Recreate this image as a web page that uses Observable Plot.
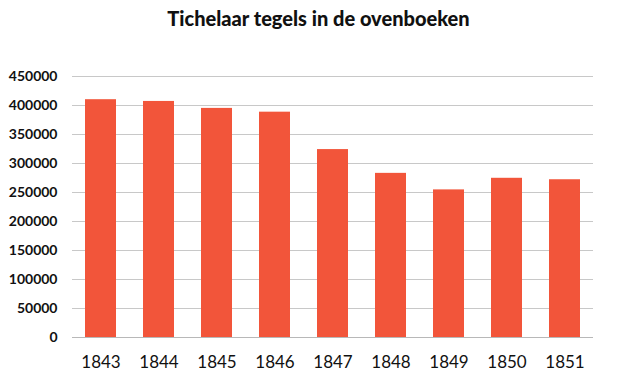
<!DOCTYPE html>
<html><head><meta charset="utf-8">
<script src="https://cdn.jsdelivr.net/npm/d3@7"></script>
<script src="https://cdn.jsdelivr.net/npm/@observablehq/plot@0.6"></script>
<style>
body{margin:0;background:#fff;width:637px;height:378px;overflow:hidden}
#title{height:40px;font-family:Lato,sans-serif;font-weight:900;font-size:20px;text-align:center;line-height:36px;color:#111}
</style></head>
<body>
<div id="title">Tichelaar tegels in de ovenboeken</div>
<div id="chart"></div>
<script>
const years = ["1843","1844","1845","1846","1847","1848","1849","1850","1851"];
const values = [410000,407000,395000,388500,324000,283000,254500,274500,272000];
const yTicks = [0,50000,100000,150000,200000,250000,300000,350000,400000,450000];

const data = years.map((y,i)=>({year:y,value:values[i]}));

const chart = Plot.plot({
  width:637, height:338,
  marginTop:36, marginBottom:41, marginLeft:72, marginRight:44,
  style:{fontFamily:"Lato, sans-serif", background:"#fff"},
  x:{domain:years, paddingInner:0.46, paddingOuter:0.2, label:null},
  y:{domain:[0,450000], ticks:yTicks, label:null},
  marks:[
    Plot.gridY(yTicks,{stroke:"#c8c8c8", strokeOpacity:1, strokeWidth:1}),
    Plot.ruleX([0],{frameAnchor:"left", stroke:"#c8c8c8"}),
    Plot.barY(data,{x:"year", y:"value", fill:"#f2553a"}),
    Plot.ruleY([0],{stroke:"#b8b8b8"}),
    Plot.axisY(yTicks,{tickSize:0, tickPadding:15, fontSize:14, fontWeight:"bold", fill:"#111", tickFormat:d=>String(d), label:null}),
    Plot.axisX({tickSize:0, tickPadding:18, fontSize:17, fill:"#111", label:null})
  ]
});
document.getElementById("chart").appendChild(chart);
</script>
</body></html>
